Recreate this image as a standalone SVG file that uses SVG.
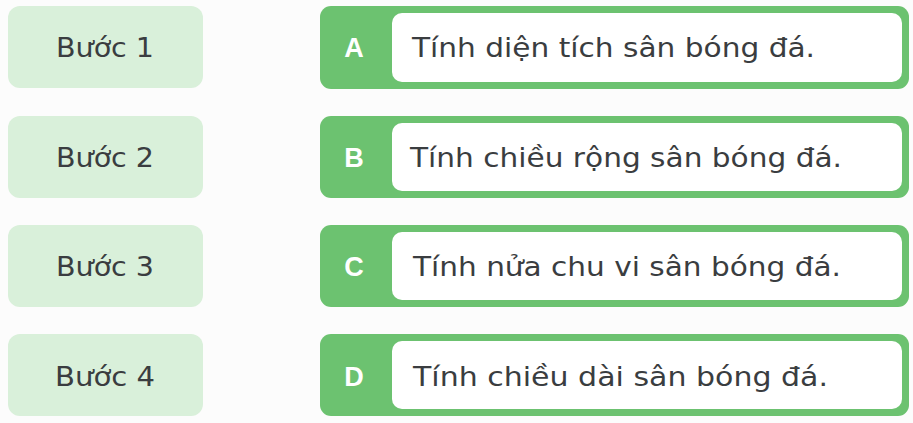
<svg xmlns="http://www.w3.org/2000/svg" width="913" height="423" viewBox="0 0 913 423">
<style>
.step{fill:#d9f0da;}
.steptxt{font-family:"DejaVu Sans","Liberation Sans",sans-serif;font-size:26px;fill:#3a3d40;text-anchor:middle;}
.outer{fill:#6cc270;}
.inner{fill:#ffffff;}
.letter{font-family:"Liberation Sans",Arial,sans-serif;font-weight:bold;font-size:27px;fill:#ffffff;text-anchor:middle;}
.opt{font-family:"DejaVu Sans","Liberation Sans",sans-serif;font-size:27px;fill:#3a3d40;}
</style>
<rect x="0" y="0" width="913" height="423" fill="#fcfcfc"/>
<g id="step1"><rect class="step" x="8" y="6" width="195" height="82" rx="12"/><text class="steptxt" x="105" y="57" textLength="98" lengthAdjust="spacingAndGlyphs">Bước 1</text></g>
<g id="step2"><rect class="step" x="8" y="116" width="195" height="82" rx="12"/><text class="steptxt" x="105" y="167" textLength="98" lengthAdjust="spacingAndGlyphs">Bước 2</text></g>
<g id="step3"><rect class="step" x="8" y="225" width="195" height="82" rx="12"/><text class="steptxt" x="105" y="276" textLength="98" lengthAdjust="spacingAndGlyphs">Bước 3</text></g>
<g id="step4"><rect class="step" x="8" y="334" width="195" height="82" rx="12"/><text class="steptxt" x="105" y="386" textLength="100" lengthAdjust="spacingAndGlyphs">Bước 4</text></g>
<g id="optA"><rect class="outer" x="320" y="6" width="589" height="83" rx="11"/><rect class="inner" x="392" y="13" width="510" height="69" rx="10"/><text class="letter" x="354" y="57">A</text><text class="opt" x="412" y="57" textLength="403" lengthAdjust="spacingAndGlyphs">Tính diện tích sân bóng đá.</text></g>
<g id="optB"><rect class="outer" x="320" y="116" width="589" height="82" rx="11"/><rect class="inner" x="392" y="123" width="510" height="68" rx="10"/><text class="letter" x="354" y="167">B</text><text class="opt" x="410" y="167" textLength="432" lengthAdjust="spacingAndGlyphs">Tính chiều rộng sân bóng đá.</text></g>
<g id="optC"><rect class="outer" x="320" y="225" width="589" height="82" rx="11"/><rect class="inner" x="392" y="232" width="510" height="68" rx="10"/><text class="letter" x="354" y="276">C</text><text class="opt" x="413" y="276" textLength="428" lengthAdjust="spacingAndGlyphs">Tính nửa chu vi sân bóng đá.</text></g>
<g id="optD"><rect class="outer" x="320" y="334" width="589" height="82" rx="11"/><rect class="inner" x="392" y="341" width="510" height="68" rx="10"/><text class="letter" x="354" y="386">D</text><text class="opt" x="413" y="386" textLength="415" lengthAdjust="spacingAndGlyphs">Tính chiều dài sân bóng đá.</text></g>
<g id="connectors"></g>
</svg>
